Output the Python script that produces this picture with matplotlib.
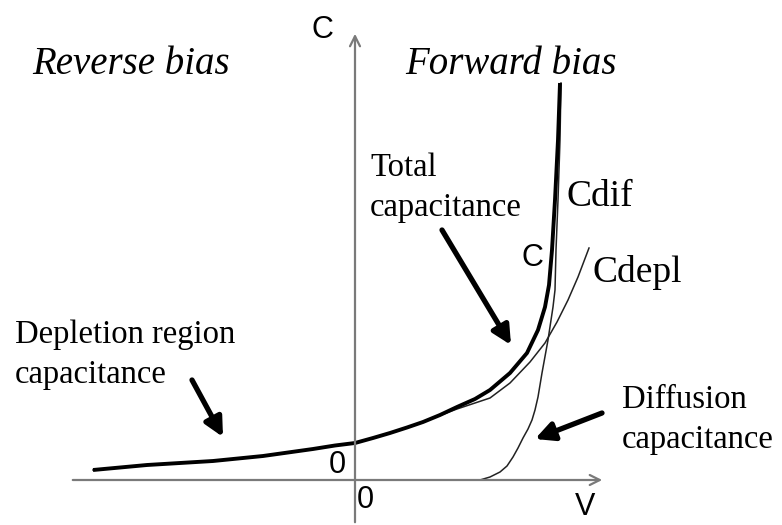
import matplotlib
matplotlib.use("Agg")
import matplotlib.pyplot as plt

# Curves (V, C in arbitrary units)
total_v = [-2.62, -2.35, -2.08, -1.75, -1.42, -1.17, -0.92, -0.67, -0.42, -0.20, 0.0, 0.18, 0.35, 0.52, 0.68, 0.85,
           1.02, 1.20, 1.35, 1.55, 1.72, 1.83, 1.90, 1.94, 1.97, 2.00, 2.03, 2.05]
total_c = [0.10, 0.125, 0.15, 0.17, 0.19, 0.215, 0.24, 0.275, 0.31, 0.345, 0.37, 0.42, 0.47, 0.525, 0.58, 0.65,
           0.73, 0.81, 0.90, 1.07, 1.27, 1.50, 1.73, 1.95, 2.30, 2.80, 3.40, 3.97]

depl_v = [-2.62, -2.35, -2.08, -1.75, -1.42, -1.17, -0.92, -0.67, -0.42, -0.20, 0.0, 0.18, 0.35, 0.52, 0.68, 0.85,
          1.02, 1.20, 1.35, 1.55, 1.75, 1.90, 2.02, 2.13, 2.23, 2.34]
depl_c = [0.10, 0.125, 0.15, 0.17, 0.19, 0.215, 0.24, 0.275, 0.31, 0.345, 0.37, 0.42, 0.47, 0.525, 0.58, 0.645,
          0.71, 0.77, 0.82, 0.97, 1.18, 1.37, 1.58, 1.80, 2.03, 2.32]

dif_v = [0.0, 1.25, 1.35, 1.45, 1.52, 1.58, 1.63, 1.68, 1.73, 1.77, 1.80, 1.83, 1.87, 1.93, 1.98, 2.00, 2.01, 2.03,
         2.05, 2.06]
dif_c = [0.0, 0.0, 0.03, 0.08, 0.14, 0.23, 0.32, 0.42, 0.51, 0.60, 0.70, 0.83, 1.07, 1.40, 1.73, 1.90, 2.30, 2.80,
         3.40, 3.97]

serif = "Liberation Serif"
sans = "Liberation Sans"

fig = plt.figure(figsize=(7.82, 5.25), dpi=100)
ax = fig.add_axes([0, 0, 1, 1])
ax.set_xlim(-3.55, 4.27)
ax.set_ylim(-0.45, 4.80)
ax.axis("off")

# axes with open arrow heads
axis_col = "#7a7a7a"
ax.annotate("", xy=(2.50, 0), xytext=(-2.85, 0),
            arrowprops=dict(arrowstyle="->", color=axis_col, lw=1.6, mutation_scale=18))
ax.annotate("", xy=(0, 4.49), xytext=(0, -0.45),
            arrowprops=dict(arrowstyle="->", color=axis_col, lw=1.6, mutation_scale=18))

# curves
ax.plot(depl_v, depl_c, color="#222222", lw=1.1)
ax.plot(dif_v, dif_c, color="#222222", lw=1.1)
ax.plot(total_v, total_c, color="black", lw=2.8, solid_capstyle="butt", solid_joinstyle="round")

# pointer arrows
arr = dict(arrowstyle="-|>", color="black", lw=3.8, mutation_scale=28, shrinkA=0, shrinkB=0)
ax.annotate("", xy=(1.56, 1.35), xytext=(0.87, 2.50), arrowprops=arr)
ax.annotate("", xy=(-1.32, 0.43), xytext=(-1.63, 1.00), arrowprops=arr)
ax.annotate("", xy=(1.80, 0.41), xytext=(2.47, 0.67), arrowprops=arr)

# labels
ax.text(-3.23, 4.16, "Reverse bias", family=serif, style="italic", fontsize=28, ha="left", va="center")
ax.text(0.50, 4.16, "Forward bias", family=serif, style="italic", fontsize=28, ha="left", va="center")
ax.text(0.15, 2.92, "Total\ncapacitance", family=serif, fontsize=23.5, ha="left", va="center", linespacing=1.4)
ax.text(-3.40, 1.25, "Depletion region\ncapacitance", family=serif, fontsize=23.5, ha="left", va="center",
        linespacing=1.4)
ax.text(2.67, 0.60, "Diffusion\ncapacitance", family=serif, fontsize=23.5, ha="left", va="center", linespacing=1.4)
ax.text(2.12, 2.83, "Cdif", family=serif, fontsize=27, ha="left", va="center")
ax.text(2.37, 2.08, "Cdepl", family=serif, fontsize=27, ha="left", va="center")

ax.text(-0.33, 4.50, "C", family=sans, fontsize=22, ha="center", va="center")
ax.text(1.77, 2.22, "C", family=sans, fontsize=22, ha="center", va="center")
ax.text(-0.18, 0.15, "0", family=sans, fontsize=22, ha="center", va="center")
ax.text(0.10, -0.20, "0", family=sans, fontsize=22, ha="center", va="center")
ax.text(2.30, -0.27, "V", family=sans, fontsize=22, ha="center", va="center")

fig.savefig("out.png", dpi=100)
